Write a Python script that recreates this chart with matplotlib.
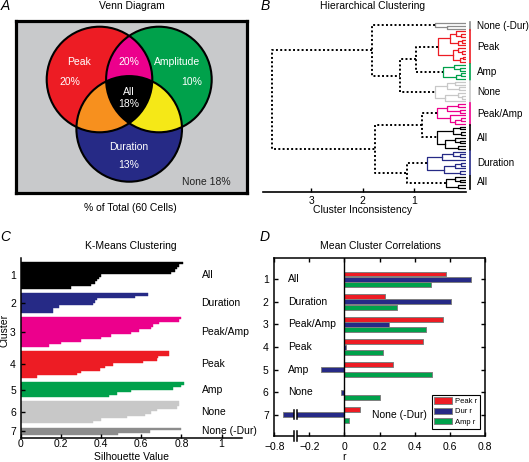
import numpy as np
import matplotlib
matplotlib.use("Agg")
import matplotlib.pyplot as plt
from matplotlib.patches import Circle, Polygon, Patch, Rectangle

plt.rcParams["font.family"] = ["Liberation Sans", "DejaVu Sans"]
plt.rcParams["font.size"] = 7.5
plt.rcParams["axes.linewidth"] = 1.1

W, H = 529, 462  # figure size in px


def fx(x):
    return x / W


def fy(y):
    return 1 - y / H


# ---------------- data ----------------
# A: Venn diagram, % of total cells
n_cells = 60
venn_sets = ["Peak", "Amplitude", "Duration"]
venn_only_pct = [20, 10, 13]
peak_amp_pct = 20
all_pct = 18
none_pct = 18
venn_colors = ["#ED1C24", "#00A14B", "#262A86"]
pair_colors = ["#EC008C", "#F7901E", "#F5E817"]  # peak&amp, peak&dur, amp&dur

# B: hierarchical clustering, nodes = (inconsistency, left, right), leaf = None
_ = None
b_names = ["None (-Dur)", "Peak", "Amp", "None", "Peak/Amp", "All", "Duration", "All"]
b_colors = ["#8C8C8C", "#ED1C24", "#00A14B", "#C8C8C8", "#EC008C", "#000000", "#262A86", "#000000"]
b_subtrees = [
    (0.59, _, (0.35, _, _)),
    (0.53, (0.30, (0.18, _, (0.08, _, _)), (0.15, (0.06, _, _), _)),
           (0.24, (0.14, _, (0.07, _, _)), (0.10, (0.05, _, _), _))),
    (0.43, (0.22, _, (0.10, _, _)), (0.18, (0.08, _, _), _)),
    (0.59, (0.35, (0.20, _, _), (0.12, _, _)), (0.40, (0.15, _, (0.07, _, _)), _)),
    (0.56, (0.35, (0.15, _, _), (0.10, _, _)), (0.30, _, (0.20, (0.08, _, _), _))),
    (0.56, (0.25, (0.10, _, _), (0.08, _, _)), (0.40, (0.20, _, (0.10, _, _)), (0.15, _, _))),
    (0.75, (0.46, (0.25, _, (0.10, _, _)), _), (0.42, (0.20, (0.08, _, _), _), (0.10, _, _))),
    (0.37, (0.20, _, (0.10, _, _)), (0.15, _, _)),
]
b_top = (3.76, (1.82, 0, (1.27, (0.96, 1, 2), 3)), (1.76, (0.85, 4, 5), (1.14, 6, 7)))

# C: k-means silhouette values per cluster (sorted)
c_names = ["All", "Duration", "Peak/Amp", "Peak", "Amp", "None", "None (-Dur)"]
c_colors = ["#000000", "#262A86", "#EC008C", "#ED1C24", "#00A14B", "#C8C8C8", "#8C8C8C"]
silhouette = [
    [0.81, 0.79, 0.78, 0.77, 0.75, 0.40, 0.39, 0.38, 0.37, 0.35, 0.25],
    [0.635, 0.57, 0.38, 0.37, 0.36, 0.19, 0.16, 0.16],
    [0.80, 0.79, 0.69, 0.66, 0.65, 0.59, 0.55, 0.45, 0.40, 0.30, 0.20, 0.14],
    [0.74, 0.74, 0.685, 0.68, 0.61, 0.46, 0.42, 0.395, 0.30, 0.28, 0.08],
    [0.815, 0.80, 0.76, 0.55, 0.48, 0.44],
    [0.79, 0.79, 0.78, 0.68, 0.65, 0.62, 0.53, 0.40, 0.36],
    [0.80, 0.645, 0.485],
]

# D: mean cluster correlations
peak_r = [0.58, 0.23, 0.56, 0.446, 0.276, 0.0, 0.088]
dur_r = [0.724, 0.61, 0.253, 0.01, -0.133, -0.02, -0.75]
amp_r = [0.495, 0.297, 0.465, 0.221, 0.50, 0.205, 0.025]
r_series = ["Peak r", "Dur r", "Amp r"]
r_colors = ["#ED1C24", "#262A86", "#00A14B"]

fig = plt.figure(figsize=(W / 100, H / 100), dpi=100)

# ---------------- A: Venn ----------------
axA = fig.add_axes([fx(16), fy(193), 231 / W, 172 / H])
axA.set_xlim(16, 247)
axA.set_ylim(193, 21)
axA.set_facecolor("#C8C9CB")
axA.set_xticks([])
axA.set_yticks([])
for s in axA.spines.values():
    s.set_linewidth(2.3)

R = 52.8
centers = [(99.5, 79.5), (158.9, 79.5), (129.2, 128.9)]


def disc(i, color, clip=None):
    p = Circle(centers[i], R, facecolor=color, edgecolor="none")
    axA.add_patch(p)
    if clip is not None:
        p.set_clip_path(clip)


def clip_circle(i):
    return Circle(centers[i], R, transform=axA.transData)


for i in range(3):
    disc(i, venn_colors[i])
disc(1, pair_colors[0], clip_circle(0))
disc(2, pair_colors[1], clip_circle(0))
disc(2, pair_colors[2], clip_circle(1))

# lens of Peak & Amplitude, used to clip the triple overlap
half = (centers[1][0] - centers[0][0]) / 2
alpha = np.arccos(half / R)
t1 = np.linspace(np.pi - alpha, np.pi + alpha, 60)
t2 = np.linspace(-alpha, alpha, 60)
lens = np.vstack([
    np.column_stack([centers[1][0] + R * np.cos(t1), centers[1][1] + R * np.sin(t1)]),
    np.column_stack([centers[0][0] + R * np.cos(t2), centers[0][1] + R * np.sin(t2)]),
])
disc(2, "black", Polygon(lens, closed=True, transform=axA.transData))

for c in centers:
    axA.add_patch(Circle(c, R, fill=False, edgecolor="black", lw=1.5))

wt = dict(color="white", ha="center", va="center", fontsize=7.5)
axA.text(79, 62, venn_sets[0], **wt)
axA.text(70, 82, f"{venn_only_pct[0]}%", **wt)
axA.text(129, 62, f"{peak_amp_pct}%", **wt)
axA.text(177, 62, venn_sets[1], **wt)
axA.text(192, 82, f"{venn_only_pct[1]}%", **wt)
axA.text(129, 92, "All", **wt)
axA.text(129, 104, f"{all_pct}%", **wt)
axA.text(129, 147, venn_sets[2], **wt)
axA.text(129, 165, f"{venn_only_pct[2]}%", **wt)
axA.text(206, 182, f"None {none_pct}%", color="#222222", ha="center", va="center", fontsize=7.5)

fig.text(fx(132), fy(6), "Venn Diagram", ha="center", va="center")
fig.text(fx(130), fy(208), f"% of Total ({n_cells} Cells)", ha="center", va="center")

# ---------------- B: dendrogram ----------------
axB = fig.add_axes([fx(262.7), fy(191.7), (465.5 - 262.7) / W, (191.7 - 18) / H])
axB.set_xlim(3.94, 0)
axB.set_ylim(60.3, -1.8)
counter = [0]
spans = {}


def draw_node(node, color="black", dotted=True):
    if node is None:
        y = counter[0]
        counter[0] += 1
        return y, 0.0
    if isinstance(node, int):
        first = counter[0]
        y, x = draw_node(b_subtrees[node], b_colors[node], False)
        spans[node] = (first, counter[0] - 1)
        return y, x
    h, left, right = node
    y1, x1 = draw_node(left, color, dotted)
    y2, x2 = draw_node(right, color, dotted)
    if dotted:
        axB.plot([x1, h, h, x2], [y1, y1, y2, y2], color="black", ls=(0, (1, 1.2)), lw=1.4)
    else:
        axB.plot([x1, h, h, x2], [y1, y1, y2, y2], color=color, lw=0.9)
    return (y1 + y2) / 2, h


draw_node(b_top)
for k, (a, b) in spans.items():
    axB.plot([-0.08, -0.08], [a - 0.4, b + 0.4], color=b_colors[k], lw=1.2, clip_on=False)
    axB.text(-0.22, (a + b) / 2, b_names[k], ha="left", va="center", fontsize=7.1)

axB.set_xticks([1, 2, 3])
axB.set_yticks([])
axB.tick_params(axis="x", direction="in", length=3, width=1, pad=3)
for side in ["left", "right", "top"]:
    axB.spines[side].set_visible(False)
axB.spines["bottom"].set_linewidth(1.2)
fig.text(fx(373), fy(6), "Hierarchical Clustering", ha="center", va="center")
fig.text(fx(363), fy(210), "Cluster Inconsistency", ha="center", va="center")

# ---------------- C: silhouette ----------------
axC = fig.add_axes([fx(20.7), fy(437.7), 221 / W, 179.7 / H])
gap = 1.7
y0 = 0.0
c_centers = []
for vals, color in zip(silhouette, c_colors):
    ys = y0 + np.arange(len(vals))
    axC.barh(ys, vals, height=1.0, color=color, edgecolor=color, linewidth=0.3)
    c_centers.append(ys.mean())
    y0 = ys[-1] + 1 + gap
y_end = y0 - gap - 0.5
axC.set_ylim(y_end + 1.1, -2.0)
axC.set_xlim(0, 1.1)
axC.set_xticks([0, 0.2, 0.4, 0.6, 0.8, 1])
axC.set_xticklabels(["0", "0.2", "0.4", "0.6", "0.8", "1"])
axC.set_yticks(c_centers)
axC.set_yticklabels([str(i + 1) for i in range(len(c_names))])
axC.tick_params(direction="in", length=3, width=1)
axC.tick_params(axis="x", pad=1)
for side in ["right", "top"]:
    axC.spines[side].set_visible(False)
for yc, name in zip(c_centers, c_names):
    axC.text(0.9, yc, name, ha="left", va="center")
fig.text(fx(131), fy(246), "K-Means Clustering", ha="center", va="center")
fig.text(fx(131), fy(456.5), "Silhouette Value", ha="center", va="center")
fig.text(fx(5), fy(330), "Cluster", ha="center", va="center", rotation=90)

# ---------------- D: correlations ----------------
axD = fig.add_axes([fx(274.3), fy(436), 210.4 / W, 178.3 / H])
brk = -0.28  # axis break: values below are shifted by +0.4
yy = np.arange(1, len(peak_r) + 1)


def shown(v):
    v = np.asarray(v, dtype=float)
    return np.where(v < brk, v + 0.4, v)


for off, vals, color, lab in zip([-0.23, 0, 0.23], [peak_r, dur_r, amp_r], r_colors, r_series):
    axD.barh(yy + off, shown(vals), height=0.22, color=color, edgecolor="#7F7F7F", linewidth=0.7, label=lab)
axD.axvline(0, color="black", lw=1.0)
axD.set_xlim(-0.4, 0.8)
axD.set_ylim(7.93, 0.05)
axD.set_xticks([-0.4, -0.2, 0, 0.2, 0.4, 0.6, 0.8])
axD.set_xticklabels(["\u22120.8", "\u22120.2", "0", "0.2", "0.4", "0.6", "0.8"])
axD.set_yticks(yy)
axD.tick_params(direction="in", length=3, width=1, top=True, right=True, pad=4)

for i, d in zip(yy, dur_r):
    name = c_names[i - 1]
    if d < brk:
        axD.text(0.16, i, name, ha="left", va="center")
    else:
        axD.text(-0.32, i, name, ha="left", va="center")
    if d < brk:
        for yb in [i, 7.93]:
            axD.add_patch(Rectangle((brk - 0.009, yb - 0.2), 0.018, 0.4, facecolor="white",
                                    edgecolor="none", clip_on=False, zorder=4))
            for xb in [brk - 0.009, brk + 0.009]:
                axD.plot([xb, xb], [yb - 0.2, yb + 0.2], color="black", lw=1.1, clip_on=False, zorder=5)

handles = [Patch(facecolor=c, edgecolor="#7F7F7F", linewidth=0.7) for c in r_colors]
leg = axD.legend(handles, r_series, loc="lower right", bbox_to_anchor=(0.995, 0.02), fontsize=5.5,
                 handlelength=2.3, handleheight=0.9, labelspacing=0.35, borderpad=0.35,
                 handletextpad=0.4, fancybox=False, framealpha=1)
leg.get_frame().set_edgecolor("black")
leg.get_frame().set_linewidth(0.8)
fig.text(fx(380), fy(246), "Mean Cluster Correlations", ha="center", va="center")
fig.text(fx(344.3), fy(457), "r", ha="center", va="center")

# panel letters
for letter, (x, y) in zip("ABCD", [(5, 6), (265, 6), (5, 237), (265, 237)]):
    fig.text(fx(x), fy(y), letter, ha="center", va="center", fontsize=10, style="italic")

fig.savefig("out.png", dpi=100)
